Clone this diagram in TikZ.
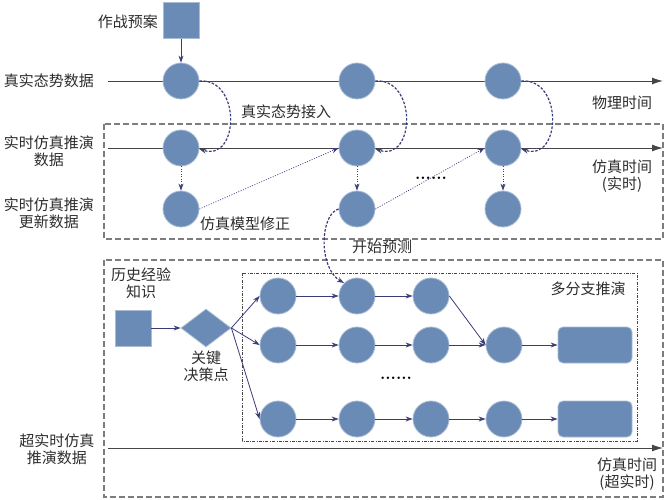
\documentclass[tikz,border=0pt]{standalone}
\usepackage{fontspec}
\newfontfamily\cjk{Noto Sans CJK SC}
\usetikzlibrary{arrows.meta,shapes.geometric}
\definecolor{cfill}{RGB}{106,139,181}
\definecolor{cedge}{RGB}{170,188,212}
\definecolor{navy}{RGB}{58,60,120}
\definecolor{axisc}{RGB}{70,70,70}
\definecolor{boxc}{RGB}{125,125,125}
\definecolor{txt}{RGB}{45,45,45}
\begin{document}
\begin{tikzpicture}[x=1pt,y=-1pt,
  dot/.style={circle,minimum size=36pt,inner sep=0pt,fill=cfill,draw=cedge,line width=0.8pt},
  sq/.style={rectangle,minimum size=36pt,inner sep=0pt,fill=cfill,draw=cedge,line width=0.8pt},
  rbox/.style={rectangle,rounded corners=5pt,minimum width=74pt,minimum height=36pt,inner sep=0pt,fill=cfill,draw=cedge,line width=0.8pt},
  dia/.style={diamond,aspect=1.32,minimum width=50pt,minimum height=38pt,inner sep=0pt,fill=cfill,draw=cedge,line width=0.8pt},
  lbl/.style={font=\cjk\fontsize{15}{17}\selectfont,text=txt,inner sep=0pt,align=center},
  dotsl/.style={font=\fontsize{17}{17}\selectfont\bfseries,text=black,inner sep=1pt},
  axisline/.style={draw=axisc,line width=0.9pt,-{Latex[length=11pt,width=7pt]}},
  arr/.style={draw=navy,line width=0.8pt,-{Stealth[length=7pt,width=5pt]}},
  dcurve/.style={draw=navy,line width=1.2pt,dash pattern=on 2.6pt off 1.6pt,-{Stealth[length=7pt,width=5pt]}},
  dotarr/.style={draw=navy,line width=0.7pt,dash pattern=on 1pt off 1.5pt,-{Stealth[length=7pt,width=5pt]}},
  dbox/.style={draw=boxc,line width=1.2pt,dash pattern=on 6pt off 3pt},
  ddbox/.style={draw=axisc,line width=0.5pt,dash pattern=on 3pt off 1.5pt on 0.6pt off 1.5pt}
]
\useasboundingbox (0,0) rectangle (665,500);

% boxes
\draw[dbox] (104,124) rectangle (663,239);
\draw[dbox] (104,260) rectangle (663,497);
\draw[ddbox] (242,273) rectangle (637,441);

% axes
\coordinate (a1s) at (108,81);  \coordinate (a1e) at (663,81);
\coordinate (a2s) at (108,148); \coordinate (a2e) at (663,148);
\coordinate (a3s) at (108,448); \coordinate (a3e) at (663,448);
\draw[axisline] (a1s) -- (a1e);
\draw[axisline] (a2s) -- (a2e);
\draw[axisline] (a3s) -- (a3e);

% top square
\node[sq] (plan) at (181,20.5) {};
\node[lbl,anchor=east] (planl) at (158,22) {作战预案};

% circles rows 1-3
\foreach \i/\x in {1/181,2/357,3/503}{
  \node[dot] (r1c\i) at (\x,81) {};
  \node[dot] (r2c\i) at (\x,148) {};
  \node[dot] (r3c\i) at (\x,209) {};
}
\draw[arr] (plan.south) -- (r1c1.north);

% dashed curves real -> sim
\foreach \i in {1,2,3}{
  \draw[dcurve] (r1c\i.east) .. controls ([xshift=42pt,yshift=3pt]r1c\i.east) and ([xshift=40pt,yshift=-14pt]r2c\i.east) .. ([yshift=-1pt]r2c\i.east);
  \draw[dotarr] (r2c\i.south) -- (r3c\i.north);
}

% dotted diagonals
\draw[dotarr] (r3c1.east) -- (r2c2.west);
\draw[dotarr] (r3c2.east) -- (r2c3.west);
\node[dotsl] (dots1) at (431,178) {......};

% branch area
\node[sq] (hist) at (133,328) {};
\node[dia] (key) at (206,328) {};
\draw[arr] (hist.east) -- (key.west);

\foreach \i/\x in {1/278,2/357,3/431,4/504}{
  \node[dot] (b\i) at (\x,345) {};
  \node[dot] (c\i) at (\x,419) {};
}
\foreach \i/\x in {1/278,2/357,3/431}{
  \node[dot] (a\i) at (\x,296) {};
}
\node[rbox] (rb) at (595,345) {};
\node[rbox] (rc) at (595,419) {};

\draw[arr] (key.east) -- (a1.west);
\draw[arr] (key.east) -- (b1.west);
\draw[arr] (key.east) -- (c1.west);
\draw[arr] (a1.east) -- (a2.west);
\draw[arr] (a2.east) -- (a3.west);
\draw[arr] (a3.east) -- (b4.west);
\draw[arr] (b1.east) -- (b2.west);
\draw[arr] (b2.east) -- (b3.west);
\draw[arr] (b3.east) -- (b4.west);
\draw[arr] (b4.east) -- (rb.west);
\draw[arr] (c1.east) -- (c2.west);
\draw[arr] (c2.east) -- (c3.west);
\draw[arr] (c3.east) -- (c4.west);
\draw[arr] (c4.east) -- (rc.west);
\node[dotsl] (dots2) at (396,378) {......};

% start prediction curve
\draw[dcurve] (r3c2.west) .. controls (320,214) and (318,268) .. (a2.north west);

% labels
\node[lbl] (l1) at (49,81) {真实态势数据};
\node[lbl] (l2) at (49,151.5) {实时仿真推演\\数据};
\node[lbl] (l3) at (49,213.5) {实时仿真推演\\更新数据};
\node[lbl] (l4) at (57,449.5) {超实时仿真\\推演数据};
\node[lbl] (t1) at (622,103) {物理时间};
\node[lbl] (t2) at (622,176) {仿真时间\\(实时)};
\node[lbl] (t3) at (627,474) {仿真时间\\(超实时)};
\node[lbl] (m1) at (286,112) {真实态势接入};
\node[lbl] (m2) at (245,224) {仿真模型修正};
\node[lbl] (m3) at (382,247) {开始预测};
\node[lbl] (m4) at (141,283.5) {历史经验\\知识};
\node[lbl] (m5) at (206,366) {关键\\决策点};
\node[lbl] (m6) at (588,289) {多分支推演};
\end{tikzpicture}
\end{document}
